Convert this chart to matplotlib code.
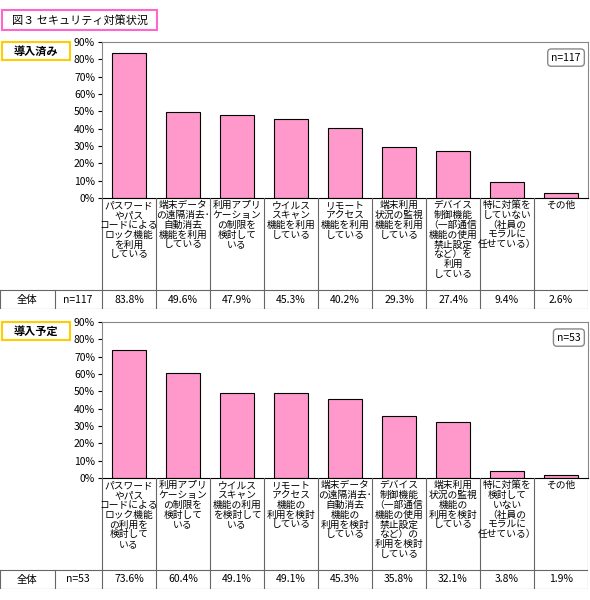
import matplotlib
matplotlib.use("Agg")
import matplotlib.pyplot as plt
from matplotlib.patches import Rectangle

plt.rcParams['font.family'] = ['Noto Sans CJK JP', 'DejaVu Sans']

labels1 = ["パスワード\nやパス\nコードによる\nロック機能\nを利用\nしている",
           "端末データ\nの遠隔消去･\n自動消去\n機能を利用\nしている",
           "利用アプリ\nケーション\nの制限を\n検討して\nいる",
           "ウイルス\nスキャン\n機能を利用\nしている",
           "リモート\nアクセス\n機能を利用\nしている",
           "端末利用\n状況の監視\n機能を利用\nしている",
           "デバイス\n制御機能\n（一部通信\n機能の使用\n禁止設定\nなど）を\n利用\nしている",
           "特に対策を\nしていない\n（社員の\nモラルに\n任せている）",
           "その他"]
values1 = [83.8, 49.6, 47.9, 45.3, 40.2, 29.3, 27.4, 9.4, 2.6]
n1 = 117

labels2 = ["パスワード\nやパス\nコードによる\nロック機能\nの利用を\n検討して\nいる",
           "利用アプリ\nケーション\nの制限を\n検討して\nいる",
           "ウイルス\nスキャン\n機能の利用\nを検討して\nいる",
           "リモート\nアクセス\n機能の\n利用を検討\nしている",
           "端末データ\nの遠隔消去･\n自動消去\n機能の\n利用を検討\nしている",
           "デバイス\n制御機能\n（一部通信\n機能の使用\n禁止設定\nなど）の\n利用を検討\nしている",
           "端末利用\n状況の監視\n機能の\n利用を検討\nしている",
           "特に対策を\n検討して\nいない\n（社員の\nモラルに\n任せている）",
           "その他"]
values2 = [73.6, 60.4, 49.1, 49.1, 45.3, 35.8, 32.1, 3.8, 1.9]
n2 = 53

W, H = 590, 600
fig = plt.figure(figsize=(W/100, H/100), dpi=100)

def ax_px(x0, y0, x1, y1):
    return fig.add_axes([x0/W, 1-y1/H, (x1-x0)/W, (y1-y0)/H])

def label_box(x, y, w, h, text, ec):
    fig.patches.append(Rectangle((x/W, 1-(y+h)/H), w/W, h/H, transform=fig.transFigure,
                                 fc='white', ec=ec, lw=1.5))
    fig.text((x+w/2)/W, 1-(y+h/2)/H, text, ha='center', va='center', fontsize=8,
             fontweight='bold')

label_box(2, 10, 155, 20, "図３ セキュリティ対策状況", '#FF66CC')
fig.texts[-1].set_fontweight('normal')

def panel(top, labels, values, n, title):
    label_box(2, top, 68, 18, title, '#FFCC00')
    x0, x1 = 102, 588
    ybot = top + 156
    ax = ax_px(x0, top, x1, ybot)
    xs = list(range(len(values)))
    ax.bar(xs, values, width=0.62, color='#FF99CC', edgecolor='black', lw=0.8)
    ax.set_xlim(-0.5, len(values)-0.5)
    ax.set_ylim(0, 90)
    ax.set_yticks(range(0, 91, 10))
    ax.set_yticklabels([f"{v}%" for v in range(0, 91, 10)], fontsize=7.5)
    ax.set_xticks([])
    ax.tick_params(axis='y', length=3, pad=2)
    for s in ax.spines.values():
        s.set_color('#888888')
    ax.spines['bottom'].set_color('black')
    ax.text(0.985, 0.9, f"n={n}", transform=ax.transAxes, ha='right', va='center',
            fontsize=7.5, bbox=dict(boxstyle='round,pad=0.35', fc='white', ec='#888888'))
    # labels area + table
    lab_bot = ybot + 92
    tab_bot = lab_bot + 19
    la = ax_px(0, ybot, x1, tab_bot)
    la.set_xlim(0, x1)
    la.set_ylim(tab_bot, ybot)
    la.axis('off')
    cw = (x1 - x0) / len(values)
    for i in range(len(values)+1):
        la.plot([x0+i*cw]*2, [ybot, tab_bot], color='#666666', lw=0.8)
    la.plot([0, x1], [lab_bot, lab_bot], color='#666666', lw=0.8)
    la.plot([0, x1], [tab_bot, tab_bot], color='#666666', lw=0.8)
    la.plot([0, 0], [lab_bot, tab_bot], color='#666666', lw=0.8)
    la.plot([55, 55], [lab_bot, tab_bot], color='#666666', lw=0.8)
    ym = (lab_bot + tab_bot) / 2
    la.text(27, ym, "全体", ha='center', va='center', fontsize=7.5)
    la.text(78, ym, f"n={n}", ha='center', va='center', fontsize=7.5)
    for i, (lb, v) in enumerate(zip(labels, values)):
        cx = x0 + (i+0.5)*cw
        la.text(cx, ybot+2, lb, ha='center', va='top', fontsize=7, linespacing=0.98)
        la.text(cx, ym, f"{v:.1f}%", ha='center', va='center', fontsize=7.5)

panel(42, labels1, values1, n1, "導入済み")
panel(322, labels2, values2, n2, "導入予定")

fig.savefig("out.png", dpi=100)
